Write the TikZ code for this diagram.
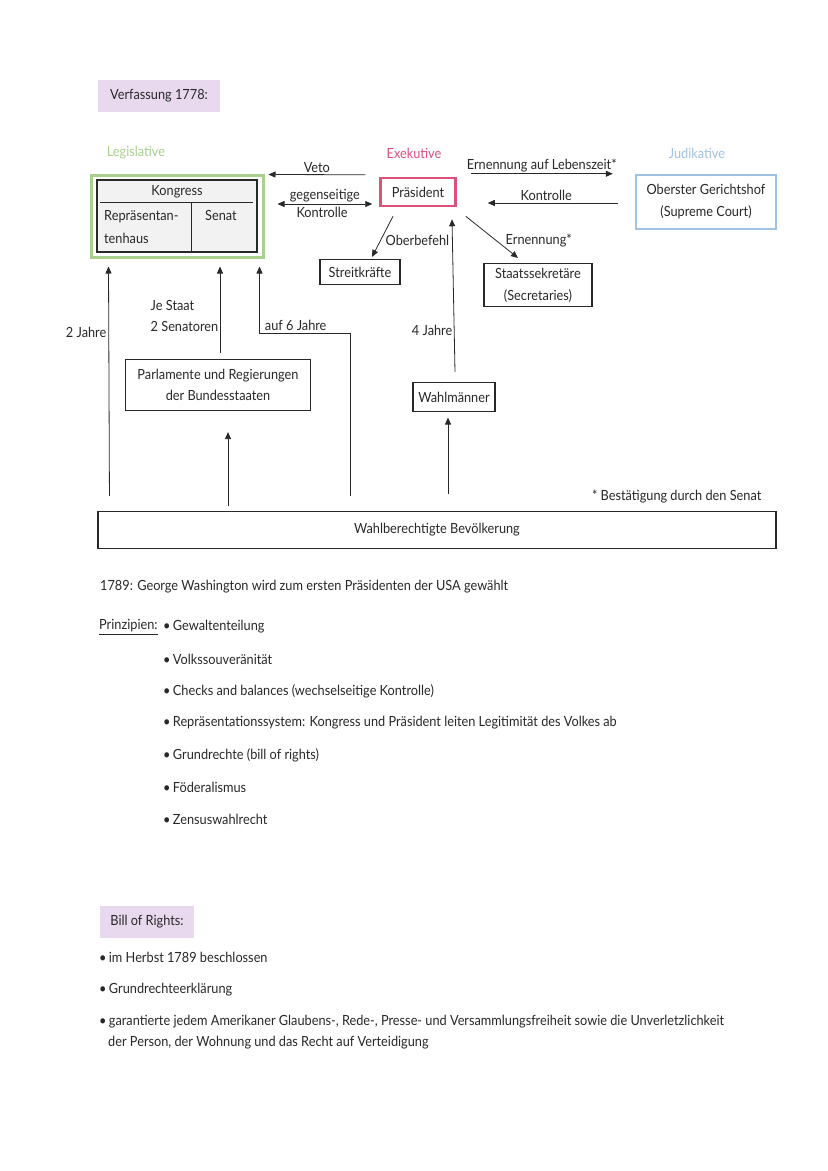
\documentclass[tikz,border=0pt]{standalone}
\usepackage{fontspec}
\setmainfont[FakeStretch=0.91]{Lato}
\usetikzlibrary{arrows.meta,calc}

\definecolor{lila}{RGB}{233,217,238}
\definecolor{legigreen}{RGB}{169,208,142}
\definecolor{exekpink}{RGB}{222,82,122}
\definecolor{judiblue}{RGB}{160,194,228}
\definecolor{kongrey}{RGB}{242,242,242}
\definecolor{ink}{RGB}{40,40,40}

\tikzset{
  every node/.style={font=\fontsize{14}{17}\selectfont, text=ink},
  box/.style={draw=ink, line width=1.1pt, inner sep=2pt, align=center},
  headbox/.style={fill=lila, minimum height=32, inner sep=6pt},
  arr/.style={-{Triangle[length=7pt,width=6pt]}, line width=0.8pt, draw=ink},
  lbl/.style={inner sep=1.5pt},
  item/.style={anchor=west, inner sep=0pt}
}

\begin{document}
\begin{tikzpicture}[x=1pt,y=-1pt]
    \useasboundingbox[fill=white] (0,0) rectangle (828,1171);

    % Ueberschrift
    \node[headbox, minimum width=122] (verf) at (159,96) {Verfassung 1778:};

    % die drei Gewalten
    \node[text=legigreen] (legi) at (136,153) {Legislative};
    \node[text=exekpink] (exek) at (414,153) {Exekutive};
    \node[text=judiblue] (judi) at (697,153) {Judikative};

    \node[draw=legigreen, line width=3pt, minimum width=172, minimum height=82] (kong) at (177,216) {};
    \node[box, fill=kongrey, minimum width=160, minimum height=72] (kongin) at (177,216) {};
    \draw[ink, line width=0.8pt] (100,202) -- (253,202);
    \draw[ink, line width=0.8pt] (191,202) -- (191,252);
    \node (kongress) at (177,192) {Kongress};
    \node[anchor=west, align=left, inner sep=0pt] (repr) at (104,227) {Repräsentan-\\[6pt]tenhaus};
    \node (senat) at (221,215) {Senat};

    \node[draw=exekpink, line width=2.5pt, minimum width=75, minimum height=28] (praes) at (418,192) {Präsident};
    \node[draw=judiblue, line width=2.5pt, minimum width=140, minimum height=54, align=center] (gericht) at (706,202) {Oberster Gerichtshof\\[5pt](Supreme Court)};
    \node[box, minimum width=80, minimum height=25] (streit) at (360,272) {Streitkräfte};
    \node[box, minimum width=108, minimum height=43] (sekr) at (538,285) {Staatssekretäre\\[5pt](Secretaries)};
    \node[box, minimum width=185, minimum height=51] (parl) at (218,385) {Parlamente und Regierungen\\[4pt]der Bundesstaaten};
    \node[box, minimum width=82, minimum height=29] (wahlm) at (454,397) {Wahlmänner};
    \node[box, minimum width=678, minimum height=37] (bev) at (437,530) {Wahlberechtigte Bevölkerung};

    % Verbindungen
    \draw[arr] ($(praes.north west)+(-14,-2)$) -- node[lbl, above] {Veto} ($(kong.north east)+(4,1)$);
    \draw[arr, {Triangle[length=7pt,width=6pt]}-{Triangle[length=7pt,width=6pt]}] ($(kong.east)+(13,-12)$) -- node[lbl, above] {gegenseitige} node[lbl, pos=0.17, anchor=north west, inner sep=2.5pt] {Kontrolle} ($(praes.west)+(-7,12)$);
    \draw[arr] ($(praes.north east)+(14,-3)$) -- node[lbl, above] {Ernennung auf Lebenszeit*} ($(gericht.north west)+(-22,0)$);
    \draw[arr] ($(gericht.west)+(-17,1)$) -- node[lbl, pos=0.55, above] {Kontrolle} ($(praes.east)+(31,11)$);
    \draw[arr] ($(praes.south)+(-25,9)$) -- ($(streit.north)+(12,-2)$);
    \node[lbl, anchor=west] (oberb) at (384,240) {Oberbefehl};
    \draw[arr] ($(praes.south east)+(9,9)$) -- ($(sekr.north)+(-20,-5)$);
    \node[lbl, anchor=west] (ernen) at (504,240) {Ernennung*};
    \draw[arr] ($(wahlm.north)+(1,-10)$) -- node[lbl, pos=0.27, left] {4 Jahre} ($(praes.south)+(34,12)$);

    \draw[arr] ($(bev.north west)+(12,-15)$) -- ($(kong.south west)+(19,8)$);
    \node[lbl, anchor=east] (zwei) at (108,332) {2 Jahre};
    \draw[arr] ($(parl.north)+(2,-6)$) -- ($(kong.south)+(43,8)$);
    \node[lbl, anchor=east, align=left] (jestaat) at (220,316) {Je Staat\\[4pt]2 Senatoren};
    \draw[arr] ($(bev.north)+(-87,-15)$) -- ++(0,-163) -| node[lbl, pos=0.3, above] {auf 6 Jahre} ($(kong.south east)+(-5,8)$);
    \draw[arr] ($(bev.north)+(-209,-5)$) -- ($(parl.south)+(10,21)$);
    \draw[arr] ($(bev.north)+(11,-17)$) -- ($(wahlm.south)+(-6,5.5)$);
    \node[lbl, anchor=east] (fussn) at (763,496) {* Bestätigung durch den Senat};

    % Text darunter
    \node[item] (wash) at (100,587) {1789: George Washington wird zum ersten Präsidenten der USA gewählt};
    \node[item] (prinz) at (99,627) {\underline{Prinzipien:}};
    \foreach \txt [count=\i from 0] in {Gewaltenteilung, Volkssouveränität, Checks and balances (wechselseitige Kontrolle), Repräsentationssystem: Kongress und Präsident leiten Legitimität des Volkes ab, Grundrechte (bill of rights), Föderalismus, Zensuswahlrecht}
        \node[item] (p\i) at (163,627+32*\i) {•\,\txt};

    \node[headbox, minimum width=94] (bill) at (147,922) {Bill of Rights:};
    \node[item] (b1) at (99,957) {•\,im Herbst 1789 beschlossen};
    \node[item] (b2) at (99,990) {•\,Grundrechteerklärung};
    \node[item, align=left] (b3) at (99,1032) {•\,garantierte jedem Amerikaner Glaubens-, Rede-, Presse- und Versammlungsfreiheit sowie die Unverletzlichkeit\\[4pt]\hspace{9pt}der Person, der Wohnung und das Recht auf Verteidigung};
\end{tikzpicture}
\end{document}
